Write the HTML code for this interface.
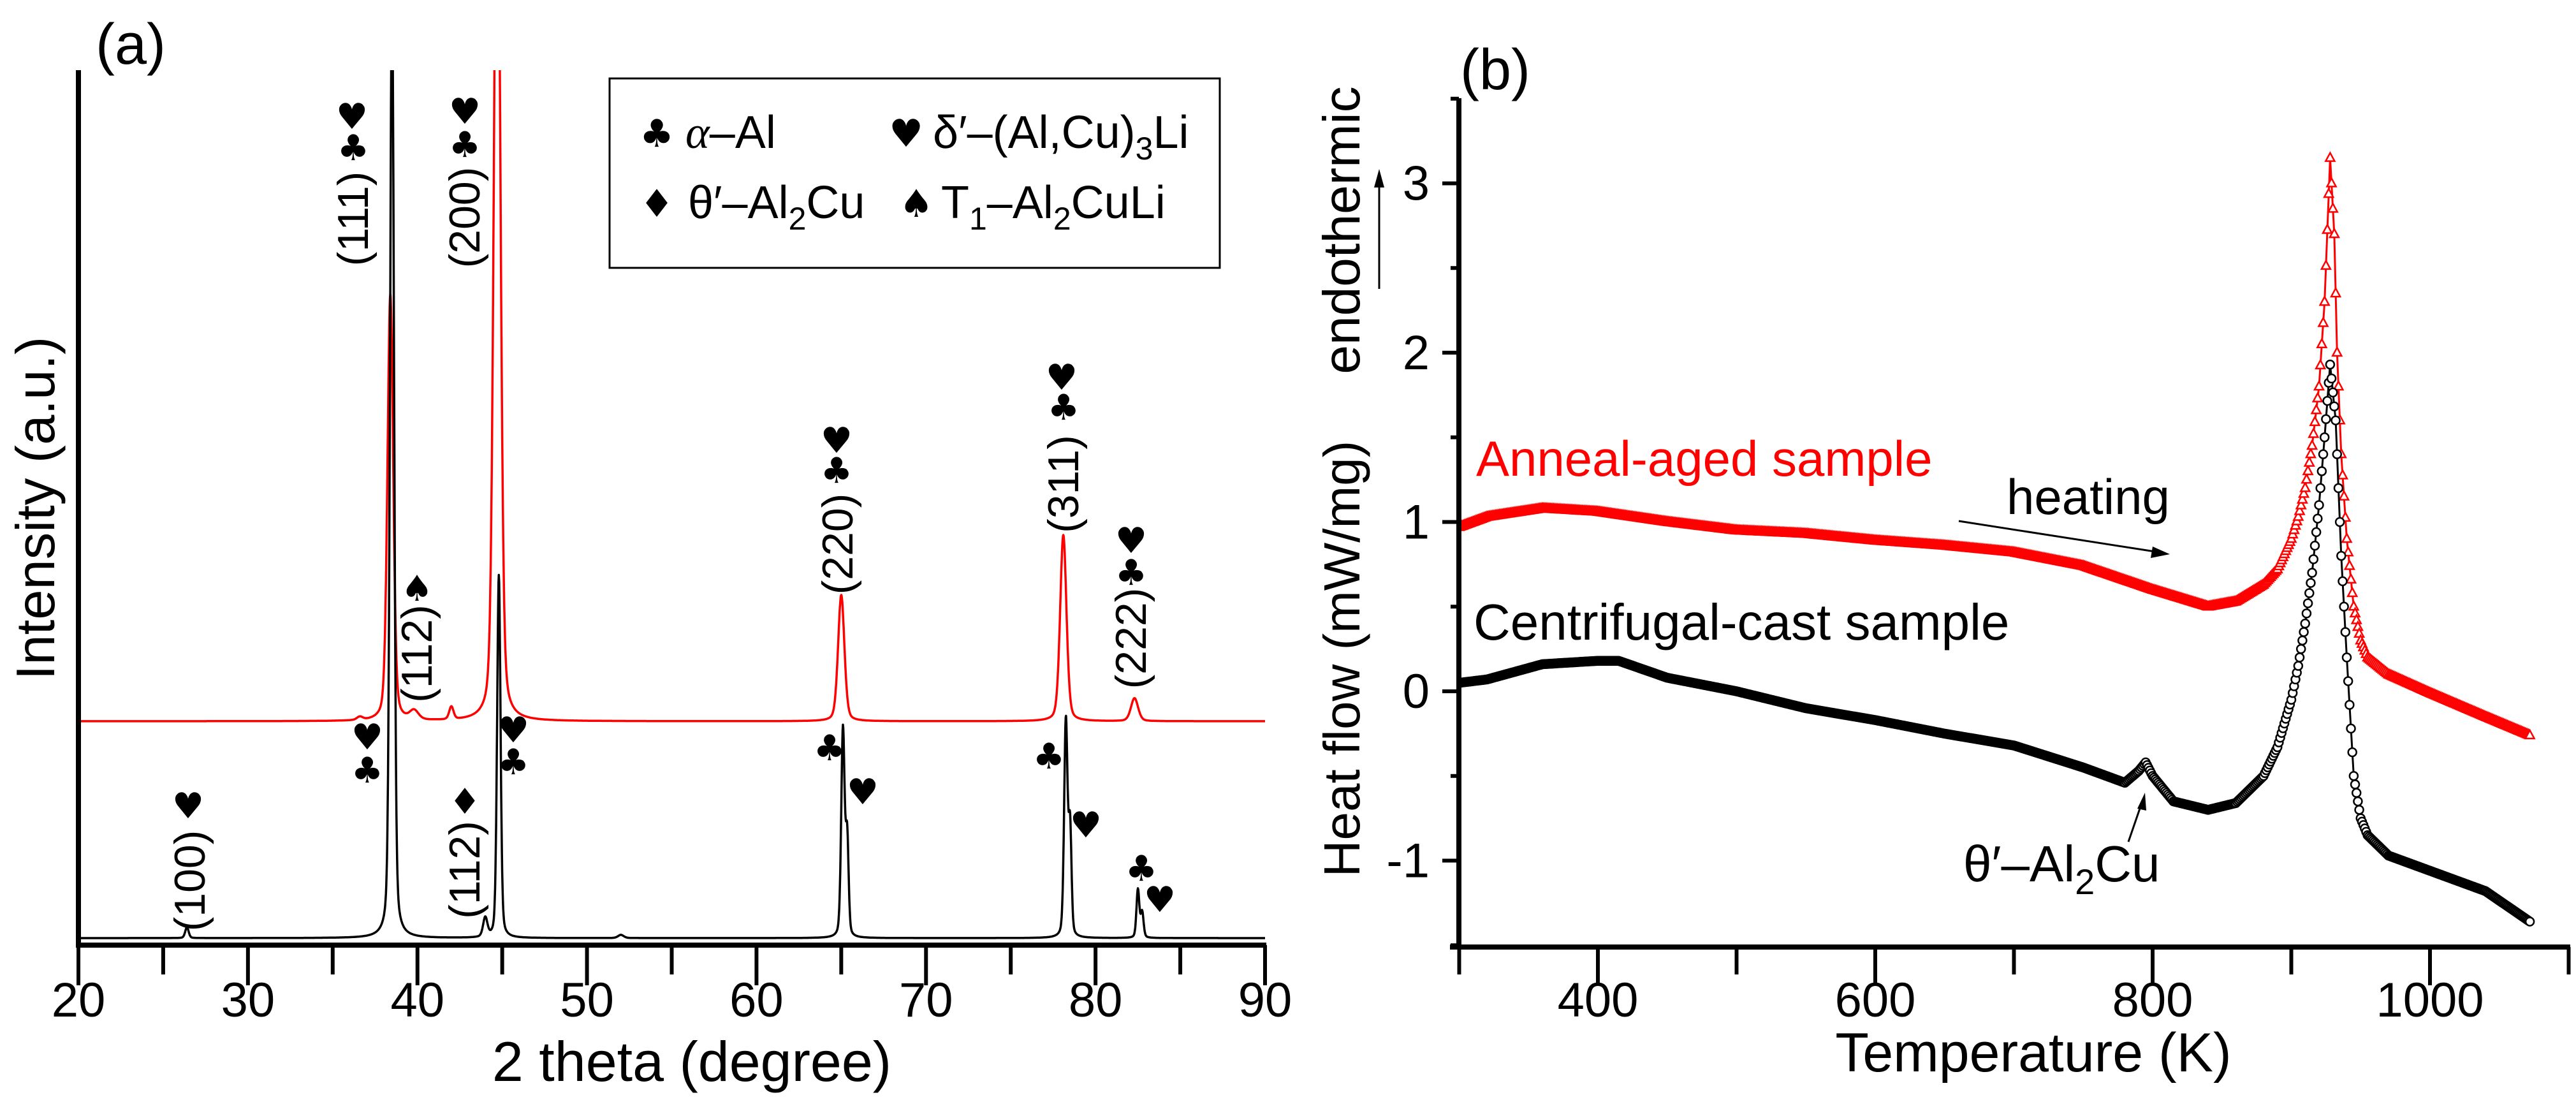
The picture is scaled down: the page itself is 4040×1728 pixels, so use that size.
<!DOCTYPE html>
<html><head><meta charset="utf-8">
<style>
html,body{margin:0;padding:0;background:#fff;}
svg{display:block;font-family:"Liberation Sans",Arial,sans-serif;}
</style></head>
<body>
<svg id="fig" width="4040" height="1728" viewBox="0 0 4040 1728" xmlns="http://www.w3.org/2000/svg">
<defs>
<clipPath id="clipA"><rect x="123" y="110" width="1861" height="1372"/></clipPath>
<clipPath id="clipB"><rect x="2288" y="154" width="1743" height="1331"/></clipPath>
</defs>
<g id="panelA">
  <text x="150" y="100" font-size="90">(a)</text>
  <g id="xrdCurves" clip-path="url(#clipA)"></g>
  <line x1="123" y1="110" x2="123" y2="1486" stroke="#000" stroke-width="8"/>
  <line x1="119" y1="1482" x2="1986" y2="1482" stroke="#000" stroke-width="8"/>
  <g id="xrdTicks"></g>
  <text x="1085" y="1695" font-size="88" text-anchor="middle">2 theta (degree)</text>
  <text transform="translate(85,797) rotate(-90)" font-size="85" text-anchor="middle">Intensity (a.u.)</text>
  <g>
    <rect x="956" y="123" width="957" height="297" fill="#fff" stroke="#000" stroke-width="3"/>
    <text x="1030" y="230" font-size="60" text-anchor="middle" font-family="DejaVu Sans">♣</text>
    <text x="1075" y="232" font-size="72"><tspan font-style="italic" font-family="Liberation Serif">α</tspan>–Al</text>
    <text x="1421" y="230" font-size="60" text-anchor="middle" font-family="DejaVu Sans">♥</text>
    <text x="1463" y="232" font-size="72">δ′–(Al,Cu)<tspan font-size="50" dy="18">3</tspan><tspan dy="-18">Li</tspan></text>
    <text x="1030" y="340" font-size="60" text-anchor="middle" font-family="DejaVu Sans">♦</text>
    <text x="1079" y="342" font-size="72">θ′–Al<tspan font-size="50" dy="18">2</tspan><tspan dy="-18">Cu</tspan></text>
    <text x="1437" y="340" font-size="60" text-anchor="middle" font-family="DejaVu Sans">♠</text>
    <text x="1476" y="342" font-size="72">T<tspan font-size="50" dy="18">1</tspan><tspan dy="-18">–Al</tspan><tspan font-size="50" dy="18">2</tspan><tspan dy="-18">CuLi</tspan></text>
  </g>
  <g id="xrdAnnot"></g>
</g>
<g id="panelB">
  <text x="2290" y="140" font-size="90">(b)</text>
  <g id="dscCurves" clip-path="url(#clipB)"></g>
  <line x1="2288" y1="154" x2="2288" y2="1489" stroke="#000" stroke-width="8"/>
  <line x1="2274" y1="1485" x2="4031" y2="1485" stroke="#000" stroke-width="8"/>
  <g id="dscTicks"></g>
  <text x="3189" y="1680" font-size="86" text-anchor="middle">Temperature (K)</text>
  <text transform="translate(2132,1033) rotate(-90)" font-size="80" text-anchor="middle">Heat flow (mW/mg)</text>
  <text transform="translate(2132,361) rotate(-90)" font-size="82" text-anchor="middle">endothermic</text>
  <line x1="2163" y1="453" x2="2163" y2="290" stroke="#000" stroke-width="3"/>
  <polygon points="2163,265 2155,294 2171,294" fill="#000"/>
  <text x="2315" y="746" font-size="78" fill="#ff0000">Anneal-aged sample</text>
  <text x="3147" y="806" font-size="78">heating</text>
  <line x1="3072" y1="817" x2="3380" y2="865" stroke="#000" stroke-width="3"/>
  <polygon points="3403,869 3376,857 3373,875" fill="#000"/>
  <text x="2311" y="1003" font-size="80">Centrifugal-cast sample</text>
  <text x="3079" y="1382" font-size="80">θ′–Al<tspan font-size="56" dy="20">2</tspan><tspan dy="-20">Cu</tspan></text>
  <line x1="3338" y1="1320" x2="3358" y2="1262" stroke="#000" stroke-width="3"/>
  <polygon points="3364,1243 3352,1268 3366,1271" fill="#000"/>
</g>
</svg>
<script>
// ---- XRD data (panel a) ----
var xrdBlackPeakPos = [26.4, 38.5, 44.0, 44.8, 52.0, 65.1, 65.35, 78.25, 78.5, 82.5, 82.75];
var xrdBlackPeakHeight = [34, 3000, 60, 1138, 10, 654, 300, 682, 330, 152, 80];
var xrdBlackPeakWidth = [0.12, 0.14, 0.15, 0.12, 0.2, 0.12, 0.1, 0.12, 0.1, 0.1, 0.1];
var xrdRedPeakPos = [36.6, 38.4, 39.8, 42.0, 44.7, 65.0, 78.1, 82.3];
var xrdRedPeakHeight = [10, 1338, 28, 40, 3000, 396, 584, 72];
var xrdRedPeakWidth = [0.2, 0.2, 0.3, 0.15, 0.22, 0.22, 0.22, 0.25];
var xrdTickValues = [20, 30, 40, 50, 60, 70, 80, 90];
// ---- DSC data (panel b) ----
var dscRedT = [300,320,360,400,450,500,550,600,650,700,750,800,840,860,880,890,900,905,910,915,920,924,928,931,933,936,940,945,950,955,970,1000,1040,1072];
var dscRedV = [0.97,1.03,1.08,1.06,1.0,0.95,0.93,0.89,0.86,0.82,0.74,0.6,0.5,0.53,0.63,0.72,0.9,1.03,1.2,1.45,1.8,2.3,3.15,2.7,2.0,1.4,0.9,0.5,0.3,0.2,0.1,-0.01,-0.15,-0.26];
var dscBlackT = [300,320,360,400,415,450,500,550,600,650,700,750,780,790,795,800,815,840,860,880,890,900,905,910,915,920,924,928,932,936,940,945,950,955,970,1000,1040,1072];
var dscBlackV = [0.05,0.07,0.16,0.18,0.18,0.08,0.0,-0.1,-0.17,-0.25,-0.32,-0.45,-0.54,-0.47,-0.42,-0.5,-0.65,-0.7,-0.66,-0.5,-0.33,-0.05,0.15,0.4,0.7,1.1,1.5,1.93,1.6,0.8,0.2,-0.5,-0.75,-0.85,-0.97,-1.06,-1.18,-1.36];
var dscXTicks = [400, 600, 800, 1000];
var dscYTicks = [-1, 0, 1, 2, 3];

var NS = "http://www.w3.org/2000/svg";
function mk(tag, attrs, parent){var e=document.createElementNS(NS,tag);for(var k in attrs)e.setAttribute(k,attrs[k]);parent.appendChild(e);return e;}

function xA(v){return 123+(v-20)*(1984-123)/70;}
function yA(I, base){return base - I*0.5;}
var blackBase=1471, redBase=1131;
// pseudo-Voigt peak profile (Gaussian/Lorentzian mix)
function pv(x,pos,h,w){var s=0;for(var i=0;i<pos.length;i++){var d=(x-pos[i])/w[i];s+=h[i]*(0.7*Math.exp(-0.693*d*d)+0.3/(1+d*d));}return s;}
var cA=document.getElementById('xrdCurves');
function drawXrd(pos,h,w,base,color,name){
  var d="";
  for(var x=20;x<=90.001;x+=0.02){
    var I=pv(x,pos,h,w);
    d+=(d?"L":"M")+xA(x).toFixed(1)+","+yA(I,base).toFixed(1);
  }
  var p=mk('path',{d:d,fill:'none',stroke:color,'stroke-width':3.5,'stroke-linejoin':'round'},cA);
  
  
}
drawXrd(xrdRedPeakPos,xrdRedPeakHeight,xrdRedPeakWidth,redBase,'#ff0000','anneal-aged-xrd-line');
drawXrd(xrdBlackPeakPos,xrdBlackPeakHeight,xrdBlackPeakWidth,blackBase,'#000','centrifugal-cast-xrd-line');

var tA=document.getElementById('xrdTicks');
for(var v=20;v<=90;v+=5){
  var major=(v%10===0);
  var t=mk('line',{x1:xA(v),y1:1482,x2:xA(v),y2:major?1545:1528,stroke:'#000','stroke-width':6},tA);
  
  
}
xrdTickValues.forEach(function(v){
  var t=mk('text',{x:xA(v),y:1594,'font-size':76,'text-anchor':'middle'},tA);
  t.textContent=v;
  
  
});

var aA=document.getElementById('xrdAnnot');
var hkl=[["(111)",554,343],["(200)",729,341],["(112)",654,1025],["(220)",1314,853],["(311)",1668,759],["(222)",1774,1001],["(100)",298,1381],["(112)",729,1364]];
hkl.forEach(function(h){
  var t=mk('text',{transform:'translate('+(h[1]+23)+','+h[2]+') rotate(-90)','font-size':68,'text-anchor':'middle'},aA);
  t.textContent=h[0];
  
  
});
var syms=[["♣",554,231],["♥",552,182],["♣",729,226],["♥",729,174],["♠",654,922],["♣",1312,737],["♥",1312,690],["♣",1668,638],["♥",1665,591],["♣",1774,897],["♥",1774,847],
["♥",576,1155],["♣",576,1207],["♥",805,1144],["♣",805,1194],["♥",295,1263],["♦",729,1256],["♣",1301,1172],["♥",1353,1241],["♣",1645,1185],["♥",1703,1293],["♣",1790,1361],["♥",1819,1410]];
syms.forEach(function(s){
  var t=mk('text',{x:s[1],y:s[2]+20,'font-size':56,'text-anchor':'middle','font-family':'DejaVu Sans'},aA);
  t.textContent=s[0];
  
  
});

function xB(T){return 2506+(T-400)*435/200;}
function yB(v){return 1084-v*265.5;}
var tB=document.getElementById('dscTicks');
for(var T=300;T<=1100;T+=100){
  var major=(T%200===0);
  var t=mk('line',{x1:xB(T),y1:1485,x2:xB(T),y2:major?1545:1528,stroke:'#000','stroke-width':6},tB);
  
  
}
for(var v=-1.5;v<=3.5;v+=0.5){
  var major=(Math.abs(v-Math.round(v))<1e-6);
  var t=mk('line',{x1:major?2262:2275,y1:yB(v),x2:2288,y2:yB(v),stroke:'#000','stroke-width':6},tB);
  
  
}
dscXTicks.forEach(function(v){
  var t=mk('text',{x:xB(v),y:1594,'font-size':76,'text-anchor':'middle'},tB);
  t.textContent=v;
  
  
});
dscYTicks.forEach(function(v){
  var t=mk('text',{x:2242,y:yB(v)+26,'font-size':76,'text-anchor':'end'},tB);
  t.textContent=v;
  
  
});

var cB=document.getElementById('dscCurves');
function interp(Ts,Vs,T){for(var i=0;i<Ts.length-1;i++){if(T<=Ts[i+1]){var f=(T-Ts[i])/(Ts[i+1]-Ts[i]);return Vs[i]+f*(Vs[i+1]-Vs[i]);}}return Vs[Vs.length-1];}
function drawDsc(Ts,Vs,color,marker,name){
  var g=mk('g',{},cB);
  
  
  var d="";
  for(var i=0;i<Ts.length;i++) d+=(i?"L":"M")+xB(Ts[i]).toFixed(1)+","+yB(Vs[i]).toFixed(1);
  mk('path',{d:d,fill:'none',stroke:color,'stroke-width':3},g);
  for(var T=Ts[0];T<=Ts[Ts.length-1];T+=1){
    var x=xB(T),y=yB(interp(Ts,Vs,T));
    if(marker==='tri'){
      mk('polygon',{points:(x)+','+(y-8)+' '+(x-7)+','+(y+5)+' '+(x+7)+','+(y+5),fill:'#fff',stroke:color,'stroke-width':2.5},g);
    } else {
      mk('circle',{cx:x,cy:y,r:6.5,fill:'#fff',stroke:color,'stroke-width':2.5},g);
    }
  }
}
drawDsc(dscRedT,dscRedV,'#ff0000','tri','anneal-aged-dsc-series');
drawDsc(dscBlackT,dscBlackV,'#000','circ','centrifugal-cast-dsc-series');
</script>
</body></html>
